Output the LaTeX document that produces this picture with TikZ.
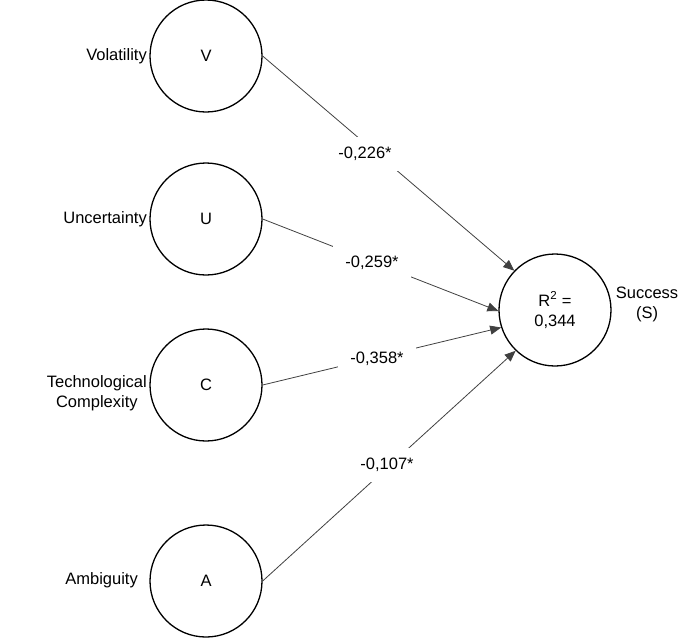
\documentclass[tikz,border=0pt]{standalone}
\usepackage{fontspec}
\setmainfont{Liberation Sans}
\usetikzlibrary{arrows.meta}
\begin{document}
\begin{tikzpicture}[x=1pt,y=-1pt,
  construct/.style={circle,draw=black,line width=1.3pt,minimum size=112pt,inner sep=0pt,font=\fontsize{16.5}{20}\selectfont},
  lbl/.style={font=\fontsize{16.5}{20}\selectfont,inner sep=0pt},
  coef/.style={fill=white,minimum width=78pt,minimum height=34pt,inner sep=0pt,font=\fontsize{16.5}{20}\selectfont},
  path/.style={draw=black!75,line width=0.8pt,-{Triangle[length=11pt,width=9pt]}}]
\useasboundingbox (0,0) rectangle (700,638);
\node[construct] (V) at (206,56) {V};
\node[construct] (U) at (206,219) {U};
\node[construct] (C) at (206,385) {C};
\node[construct] (A) at (206,581) {A};
\node[construct,align=center] (S) at (555,310) {R\textsuperscript{2} =\\0,344};
\node[lbl,anchor=east] (lv) at (147,56) {Volatility};
\node[lbl,anchor=east] (lu) at (147,219) {Uncertainty};
\node[lbl,anchor=east,align=center] (lc) at (147,393) {Technological\\Complexity};
\node[lbl,anchor=east] (la) at (138,580) {Ambiguity};
\node[lbl,align=center] (ls) at (647,304) {Success\\(S)};
\draw[path] (V.east) -- (S.136);
\draw[path] (U.east) -- (S.181);
\draw[path] (C.east) -- (S.198);
\draw[path] (A.east) -- (S.226);
\node[coef] (cv) at (365,154) {-0,226*};
\node[coef] (cu) at (372,263) {-0,259*};
\node[coef] (cc) at (377,359) {-0,358*};
\node[coef] (ca) at (387,465) {-0,107*};
\end{tikzpicture}
\end{document}
